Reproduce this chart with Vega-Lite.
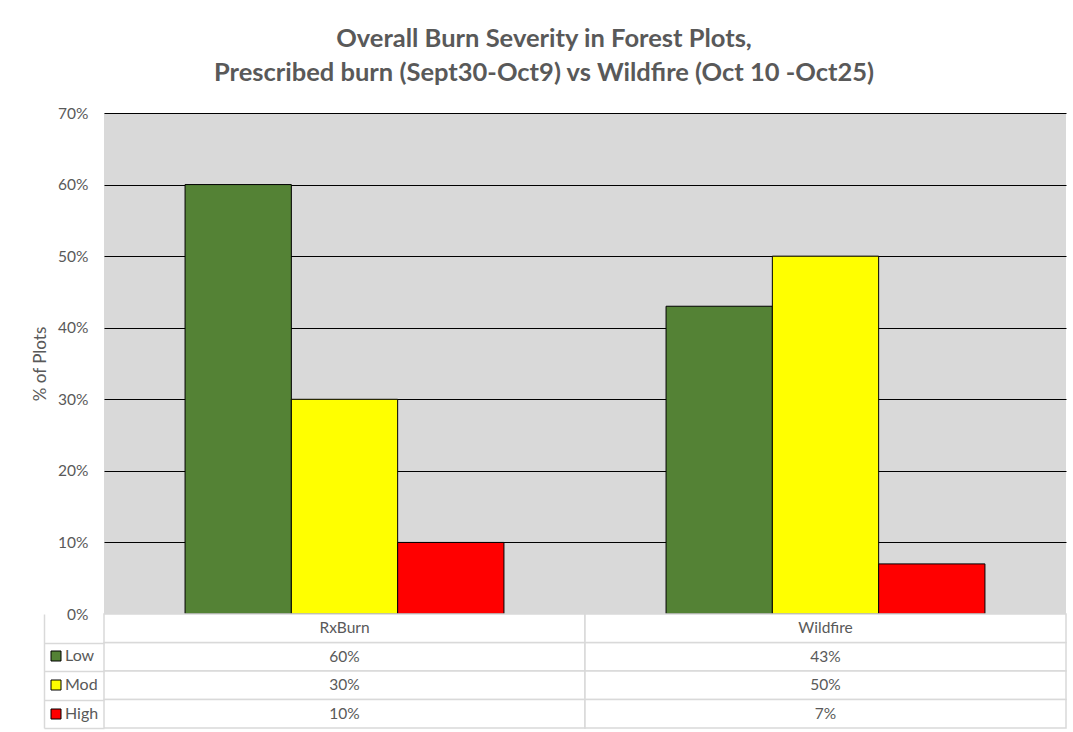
{
  "$schema": "https://vega.github.io/schema/vega-lite/v6.json",
  "padding": {"left": 31, "top": 26, "right": 7, "bottom": 5},
  "background": "white",
  "bounds": "flush",
  "spacing": 0,
  "config": {"font": "Lato", "axis": {"labelColor": "#595959", "labelFontSize": 15.5, "titleColor": "#595959", "titleFontSize": 17, "titleFontWeight": "normal"}},
  "title": {"text": ["Overall Burn Severity in Forest Plots,", "Prescribed burn (Sept30-Oct9) vs Wildfire (Oct 10 -Oct25)"], "font": "Lato", "fontSize": 25.5, "fontWeight": "bold", "color": "#595959", "lineHeight": 34, "anchor": "middle", "frame": "group", "dx": -41, "offset": 20},
  "datasets": {
    "burn": [
      {"category": "RxBurn", "severity": "Low", "value": 0.60},
      {"category": "RxBurn", "severity": "Mod", "value": 0.30},
      {"category": "RxBurn", "severity": "High", "value": 0.10},
      {"category": "Wildfire", "severity": "Low", "value": 0.43},
      {"category": "Wildfire", "severity": "Mod", "value": 0.50},
      {"category": "Wildfire", "severity": "High", "value": 0.07}
    ]
  },
  "vconcat": [
    {
      "width": 962,
      "height": 501,
      "view": {"fill": "#d9d9d9", "stroke": null},
      "data": {"name": "burn"},
      "mark": {"type": "bar", "stroke": "black", "strokeWidth": 1},
      "encoding": {
        "x": {"field": "category", "type": "nominal", "scale": {"domain": ["RxBurn", "Wildfire"], "paddingInner": 0.337, "paddingOuter": 0.1685}, "axis": null},
        "xOffset": {"field": "severity", "type": "nominal", "scale": {"domain": ["Low", "Mod", "High"], "paddingInner": 0, "paddingOuter": 0}},
        "y": {"field": "value", "type": "quantitative", "scale": {"domain": [0, 0.7], "nice": false},
          "axis": {"format": ".0%", "values": [0, 0.1, 0.2, 0.3, 0.4, 0.5, 0.6, 0.7], "title": "% of Plots", "ticks": false, "domain": false, "labelPadding": 16, "titlePadding": 8,
            "gridColor": {"condition": {"test": "datum.value === 0", "value": "transparent"}, "value": "black"}, "gridWidth": 1, "gridOpacity": 1}},
        "color": {"field": "severity", "type": "nominal", "scale": {"domain": ["Low", "Mod", "High"], "range": ["#548235", "#ffff00", "#ff0000"]},
          "legend": {"orient": "none", "legendX": -56, "legendY": 535, "title": null, "direction": "vertical", "symbolType": "square", "symbolSize": 100, "symbolStrokeColor": "black", "symbolStrokeWidth": 1, "labelFont": "Lato", "labelFontSize": 16, "labelColor": "#595959", "rowPadding": 13, "padding": 0, "labelOffset": 1}}
      }
    },
    {
      "width": 962,
      "height": 114,
      "view": {"stroke": null, "fill": "white"},
      "data": {"name": "burn"},
      "encoding": {
        "x": {"field": "category", "type": "nominal", "scale": {"domain": ["RxBurn", "Wildfire"], "paddingInner": 0, "paddingOuter": 0}, "axis": null}
      },
      "layer": [
        {
          "mark": {"type": "rect", "fill": "white", "stroke": "#d9d9d9", "strokeWidth": 1.5},
          "encoding": {
            "y": {"field": "severity", "type": "nominal", "scale": {"domain": ["hdr", "Low", "Mod", "High"], "paddingInner": 0, "paddingOuter": 0},
              "axis": {"values": ["Low", "Mod", "High"], "tickBand": "extent", "labels": false, "title": null, "domain": true, "domainColor": "#d9d9d9", "domainWidth": 1.5, "tickColor": "#d9d9d9", "tickWidth": 1.5, "tickSize": -60, "offset": 60, "grid": false}}
          }
        },
        {
          "mark": {"type": "text", "fontSize": 15.5, "color": "#595959"},
          "encoding": {
            "y": {"field": "severity", "type": "nominal"},
            "text": {"field": "value", "type": "quantitative", "format": ".0%"}
          }
        },
        {
          "transform": [{"filter": "datum.severity === 'Low'"}],
          "mark": {"type": "rect", "fill": "white", "stroke": "#d9d9d9", "strokeWidth": 1.5},
          "encoding": {"y": {"datum": "hdr", "type": "nominal"}}
        },
        {
          "transform": [{"filter": "datum.severity === 'Low'"}],
          "mark": {"type": "text", "fontSize": 15.5, "color": "#595959"},
          "encoding": {"y": {"datum": "hdr", "type": "nominal"}, "text": {"field": "category", "type": "nominal"}}
        }
      ]
    }
  ]
}
